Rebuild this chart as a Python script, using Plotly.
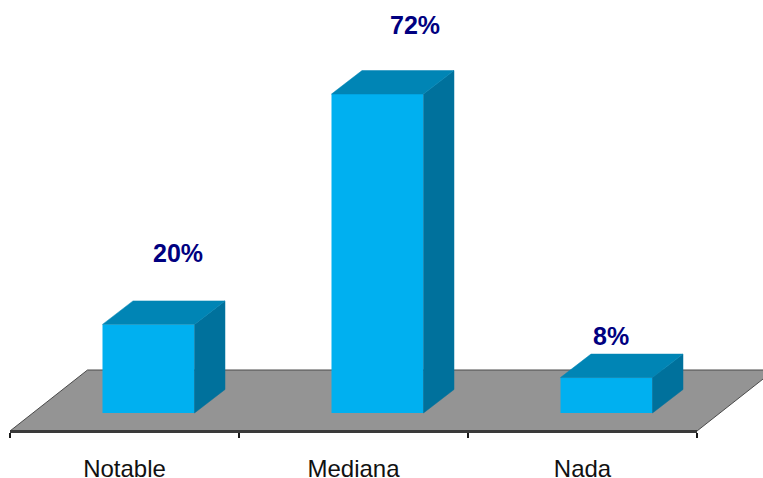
import plotly.graph_objects as go

categories = ["Notable", "Mediana", "Nada"]
values = [20, 72, 8]
labels = ["20%", "72%", "8%"]

W, H = 763, 478
SLOT_PX = 229.0       # width of one category on the axis
PX_PER_UNIT = 4.43    # pixels per percentage point
ZERO_PX = 413         # pixel row of the value 0
AXIS_PX = 431         # pixel row of the axis line
FIRST_PX = 124.5      # pixel column of the first category

BAR_W = 92 / SLOT_PX
BAR_SHIFT = 24 / SLOT_PX
DEPTH_X = 30.5 / SLOT_PX
DEPTH_Y = 23.5 / PX_PER_UNIT

LABEL_DX = [29.5, 37.5, 4.5]
LABEL_DY = [71, 69, 41.5]

FRONT, TOP, SIDE = "#00B0F0", "#0085B5", "#00719C"

fig = go.Figure()

xs = list(range(len(categories)))
fig.add_trace(go.Bar(
    x=xs, y=values, width=BAR_W, offset=BAR_SHIFT - BAR_W / 2,
    marker=dict(color=FRONT, line=dict(width=0)), hoverinfo="skip", showlegend=False,
))

for i, v in zip(xs, values):
    l = i + BAR_SHIFT - BAR_W / 2
    r = l + BAR_W
    fig.add_trace(go.Scatter(
        x=[r, r + DEPTH_X, r + DEPTH_X, r, r], y=[0, DEPTH_Y, v + DEPTH_Y, v, 0],
        mode="lines", fill="toself", fillcolor=SIDE, line=dict(color=SIDE, width=0.5),
        hoverinfo="skip", showlegend=False,
    ))
    fig.add_trace(go.Scatter(
        x=[l, l + DEPTH_X, r + DEPTH_X, r, l], y=[v, v + DEPTH_Y, v + DEPTH_Y, v, v],
        mode="lines", fill="toself", fillcolor=TOP, line=dict(color=TOP, width=0.5),
        hoverinfo="skip", showlegend=False,
    ))

# carrier of the category axis
fig.add_trace(go.Scatter(
    x=categories, y=values, xaxis="x2", mode="markers",
    marker=dict(opacity=0), hoverinfo="skip", showlegend=False,
))

y_low = -(H - ZERO_PX) / PX_PER_UNIT
y_high = ZERO_PX / PX_PER_UNIT
x_low = -FIRST_PX / SLOT_PX
x_high = (W - FIRST_PX) / SLOT_PX

# floor of the 3-D box
floor_front = (ZERO_PX - AXIS_PX) / PX_PER_UNIT
floor_back = (ZERO_PX - 370) / PX_PER_UNIT
floor_dx = 77.5 / SLOT_PX
floor_path = (
    f"M -0.5 {floor_front} L {-0.5 + floor_dx} {floor_back} "
    f"L {2.5 + floor_dx} {floor_back} L 2.5 {floor_front} Z"
)
fig.add_shape(type="path", path=floor_path, xref="x", yref="y", layer="below",
              fillcolor="#949494", line=dict(color="#4A4A4A", width=1))

for i, v, t, dx, dy in zip(xs, values, labels, LABEL_DX, LABEL_DY):
    fig.add_annotation(
        x=i + BAR_SHIFT, y=v, text=t, showarrow=False, xanchor="center", yanchor="middle",
        xshift=dx, yshift=dy,
        font=dict(family="Liberation Sans", size=25, color="#000080", weight="bold"),
    )

fig.update_layout(
    width=W, height=H, autosize=False,
    margin=dict(l=0, r=0, t=0, b=0, autoexpand=False),
    paper_bgcolor="white", plot_bgcolor="rgba(0,0,0,0)", showlegend=False,
    xaxis=dict(domain=[0, 1], range=[x_low, x_high], visible=False, fixedrange=True),
    yaxis=dict(domain=[0, 1], range=[y_low, y_high], visible=False, fixedrange=True),
    xaxis2=dict(
        domain=[10 / W, 697 / W], anchor="free", position=(H - AXIS_PX) / H,
        type="category", categoryorder="array", categoryarray=categories, range=[-0.5, 2.5],
        showgrid=False, zeroline=False, showline=True, linecolor="#3A3A3A", linewidth=3,
        ticks="outside", tickson="boundaries", ticklen=5, tickwidth=1.5, tickcolor="#1A1A1A",
        ticklabelstandoff=15, side="bottom", automargin=False,
        tickfont=dict(family="Liberation Sans", size=24, color="#111111"),
        fixedrange=True,
    ),
)

fig.write_html("out.html", config={"displayModeBar": False},
               post_script="document.body.style.margin='0';document.documentElement.style.overflow='hidden';")
